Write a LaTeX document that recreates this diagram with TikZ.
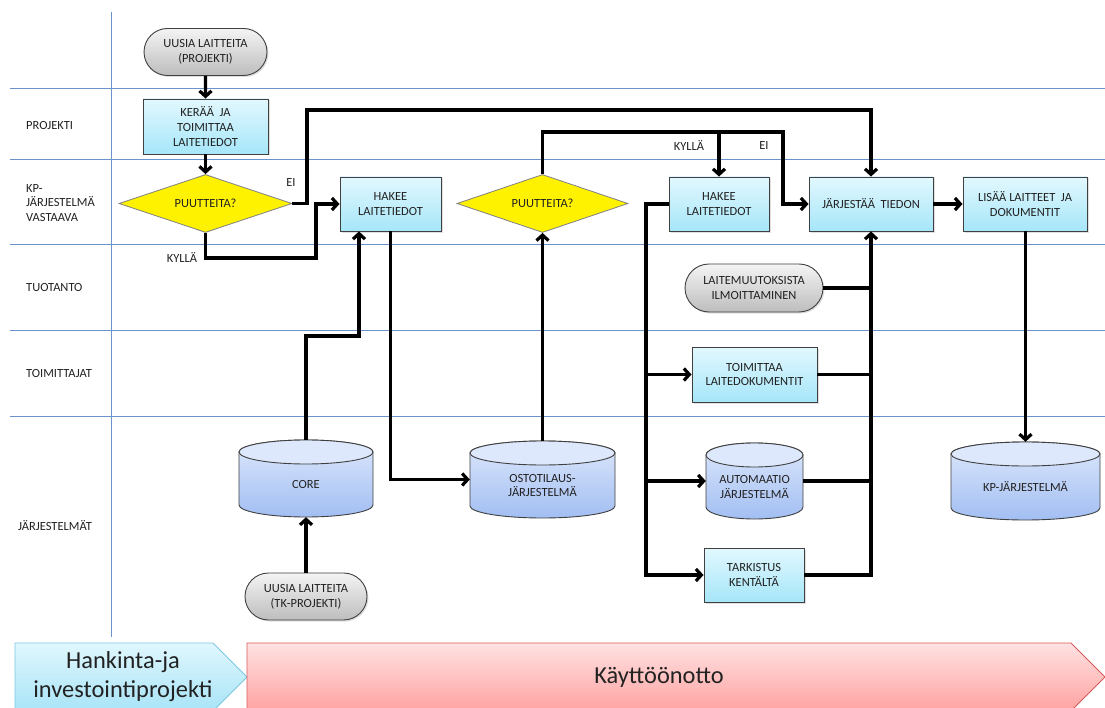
\documentclass[tikz,border=0pt]{standalone}
\usepackage{fontspec}
\setmainfont{Carlito}
\usetikzlibrary{shapes.geometric,shapes.misc,arrows.meta,shadows,calc}

\definecolor{lane}{HTML}{6A93CC}
\definecolor{txt}{HTML}{222222}
\definecolor{edge}{HTML}{404040}
\definecolor{boxTop}{HTML}{E2F8FE}
\definecolor{boxBot}{HTML}{A6E6F9}
\definecolor{termTop}{HTML}{F4F4F4}
\definecolor{termBot}{HTML}{BDBDBD}
\definecolor{drumTop}{HTML}{DDE8FC}
\definecolor{drumBot}{HTML}{A2BEF2}
\definecolor{phaseATop}{HTML}{E0F7FD}
\definecolor{phaseABot}{HTML}{A8E4F7}
\definecolor{phaseALine}{HTML}{7CC8E0}
\definecolor{phaseBTop}{HTML}{FFE2E2}
\definecolor{phaseBBot}{HTML}{FFA2A2}
\definecolor{phaseBLine}{HTML}{D95C5C}

\tikzset{
  base/.style={font=\fontsize{12.5}{15}\selectfont, text=txt, align=center, inner sep=1bp},
  softshadow/.style={drop shadow={shadow xshift=1.5bp, shadow yshift=-1.5bp, opacity=0.25}},
  stepbox/.style={base, rectangle, draw=edge, line width=0.9bp, top color=boxTop, bottom color=boxBot, softshadow},
  term/.style={base, rounded rectangle, draw=edge, line width=0.9bp, top color=termTop, bottom color=termBot, softshadow},
  decide/.style={base, diamond, aspect=3, draw=gray, line width=0.8bp, fill=yellow, inner sep=0pt},
  lanelabel/.style={base, anchor=west, align=left},
  note/.style={base},
  phase/.style={font=\fontsize{24.5}{29}\selectfont, text=txt, align=center},
  flow/.style={draw=black, line width=3.2bp, -{Straight Barb[length=5.5bp,width=12bp]}},
  wire/.style={draw=black, line width=3.2bp},
  laneline/.style={draw=lane, line width=1bp},
}

% database drum: name, centre x, centre y (pixels down), width, height, text
\newcommand\drum[6]{%
  \path[draw=edge, line width=0.9bp, top color=drumTop, bottom color=drumBot]
    ({#2-#4/2},{-#3+#5/2-12}) -- ({#2-#4/2},{-#3-#5/2+12})
    arc[start angle=180,end angle=360,x radius={#4/2},y radius=12]
    -- ({#2+#4/2},{-#3+#5/2-12})
    arc[start angle=0,end angle=180,x radius={#4/2},y radius=12] -- cycle;
  \path[draw=edge, line width=0.9bp, fill=drumTop]
    (#2,{-#3+#5/2-12}) ellipse[x radius={#4/2},y radius=12];
  \node[inner sep=0pt, minimum width=#4bp, minimum height=#5bp] (#1) at (#2,{-#3}) {};
  \node[base] (#1-label) at (#2,{-#3-6}) {#6};
}

\begin{document}
\begin{tikzpicture}[x=1bp,y=1bp]
\useasboundingbox (0,0) rectangle (1105,-708);
\fill[white] (0,0) rectangle (1105,-708);

% swimlane grid
\foreach \yy in {89,160,244,330,416}
  \draw[laneline] (10,-\yy) -- (1105,-\yy);
\draw[laneline] (111,-12) -- (111,-637);

% lane titles
\node[lanelabel] (lane1) at (25,-126) {PROJEKTI};
\node[lanelabel] (lane2) at (25,-203) {KP-\\JÄRJESTELMÄ\\VASTAAVA};
\node[lanelabel] (lane3) at (25,-288) {TUOTANTO};
\node[lanelabel] (lane4) at (25,-373) {TOIMITTAJAT};
\node[lanelabel] (lane5) at (17,-526) {JÄRJESTELMÄT};

% process nodes
\node[term, minimum width=125bp, minimum height=47bp] (t1) at (205.5,-52) {UUSIA LAITTEITA\\(PROJEKTI)};
\node[stepbox, minimum width=125bp, minimum height=55bp] (b1) at (205.5,-126.5) {KERÄÄ\ \ JA\\TOIMITTAA\\LAITETIEDOT};
\node[decide, minimum width=173bp, minimum height=58bp] (d1) at (205.5,-203.5) {PUUTTEITA?};
\node[stepbox, minimum width=101bp, minimum height=54bp] (b2) at (390.5,-204) {HAKEE\\LAITETIEDOT};
\node[decide, minimum width=171bp, minimum height=58bp] (d2) at (542.5,-203.5) {PUUTTEITA?};
\node[stepbox, minimum width=100bp, minimum height=54bp] (b3) at (719,-204) {HAKEE\\LAITETIEDOT};
\node[stepbox, minimum width=124bp, minimum height=54bp] (b4) at (871,-204) {JÄRJESTÄÄ\ \ TIEDON};
\node[stepbox, minimum width=124bp, minimum height=54bp] (b5) at (1025,-204) {LISÄÄ LAITTEET\ \ JA\\DOKUMENTIT};
\node[term, minimum width=140bp, minimum height=48bp] (t2) at (754,-288) {LAITEMUUTOKSISTA\\ILMOITTAMINEN};
\node[stepbox, minimum width=125bp, minimum height=55bp] (b6) at (754.5,-374.5) {TOIMITTAA\\LAITEDOKUMENTIT};
\node[stepbox, minimum width=100bp, minimum height=54bp] (b7) at (754,-575) {TARKISTUS\\KENTÄLTÄ};
\node[term, minimum width=124bp, minimum height=47bp] (t3) at (306,-596.5) {UUSIA LAITTEITA\\(TK-PROJEKTI)};

% databases
\drum{c1}{306}{478.5}{134}{77}{CORE}
\drum{c2}{542.5}{479.5}{145}{77}{OSTOTILAUS-\\JÄRJESTELMÄ}
\drum{c3}{754.5}{481}{97}{76}{AUTOMAATIO\\JÄRJESTELMÄ}
\drum{c4}{1025.5}{481}{149}{78}{KP-JÄRJESTELMÄ}

% helper points
\coordinate (split) at (783,-132);
\coordinate (coreup) at (359,-336);
\coordinate (busL) at (646,0);

% connectors
\draw[flow] (t1) -- (b1);
\draw[flow] (b1) -- (d1);
\draw[flow] (d1.east) -| (307,-110) -| (b4.north);
\draw[flow] (d1.south) |- (316,-258) |- (b2.west);
\draw[flow] (t3.north) -- (c1.south);
\draw[flow] (c1.north) |- (coreup) -- (coreup |- b2.south);
\draw[flow] (b2.south) |- (c2.west);
\draw[flow] (c2.north) -- (d2.south);
\draw[flow] (d2.north) |- (split) |- (b4.west);
\draw[flow] (b3.north |- split) -- (b3.north);
\draw[flow] (b4.east) -- (b5.west);
\draw[flow] (b5.south -| c4.north) -- (c4.north);

% distribution bus
\draw[flow] (b3.west) -| (b7.west -| busL) -- (b7.west);
\draw[flow] (b6.west -| busL) -- (b6.west);
\draw[flow] (c3.west -| busL) -- (c3.west);

% collection bus
\draw[flow] (b7.east) -| (b4.south);
\draw[wire] (t2.east) -- (t2.east -| b4.south);
\draw[wire] (b6.east) -- (b6.east -| b4.south);
\draw[wire] (c3.east) -- (c3.east -| b4.south);

% branch labels
\node[note] (ei1) at (291,-183) {EI};
\node[note] (kylla1) at (182,-258) {KYLLÄ};
\node[note] (kylla2) at (689,-146) {KYLLÄ};
\node[note] (ei2) at (764,-146) {EI};

% project phases
\begin{scope}
  \clip (0,0) rectangle (1105,-708);
  \path[draw=phaseALine, line width=0.8bp, top color=phaseATop, bottom color=phaseABot]
    (15,-643) -- (213,-643) -- (247,-677) -- (213,-711) -- (15,-711) -- cycle;
  \path[draw=phaseBLine, line width=0.8bp, top color=phaseBTop, bottom color=phaseBBot]
    (247,-643) -- (1071,-643) -- (1105,-677) -- (1071,-711) -- (247,-711) -- cycle;
\end{scope}
\node[phase] (phaseA) at (123,-677) {Hankinta-ja\\investointiprojekti};
\node[phase] (phaseB) at (659,-677) {Käyttöönotto};
\end{tikzpicture}
\end{document}
